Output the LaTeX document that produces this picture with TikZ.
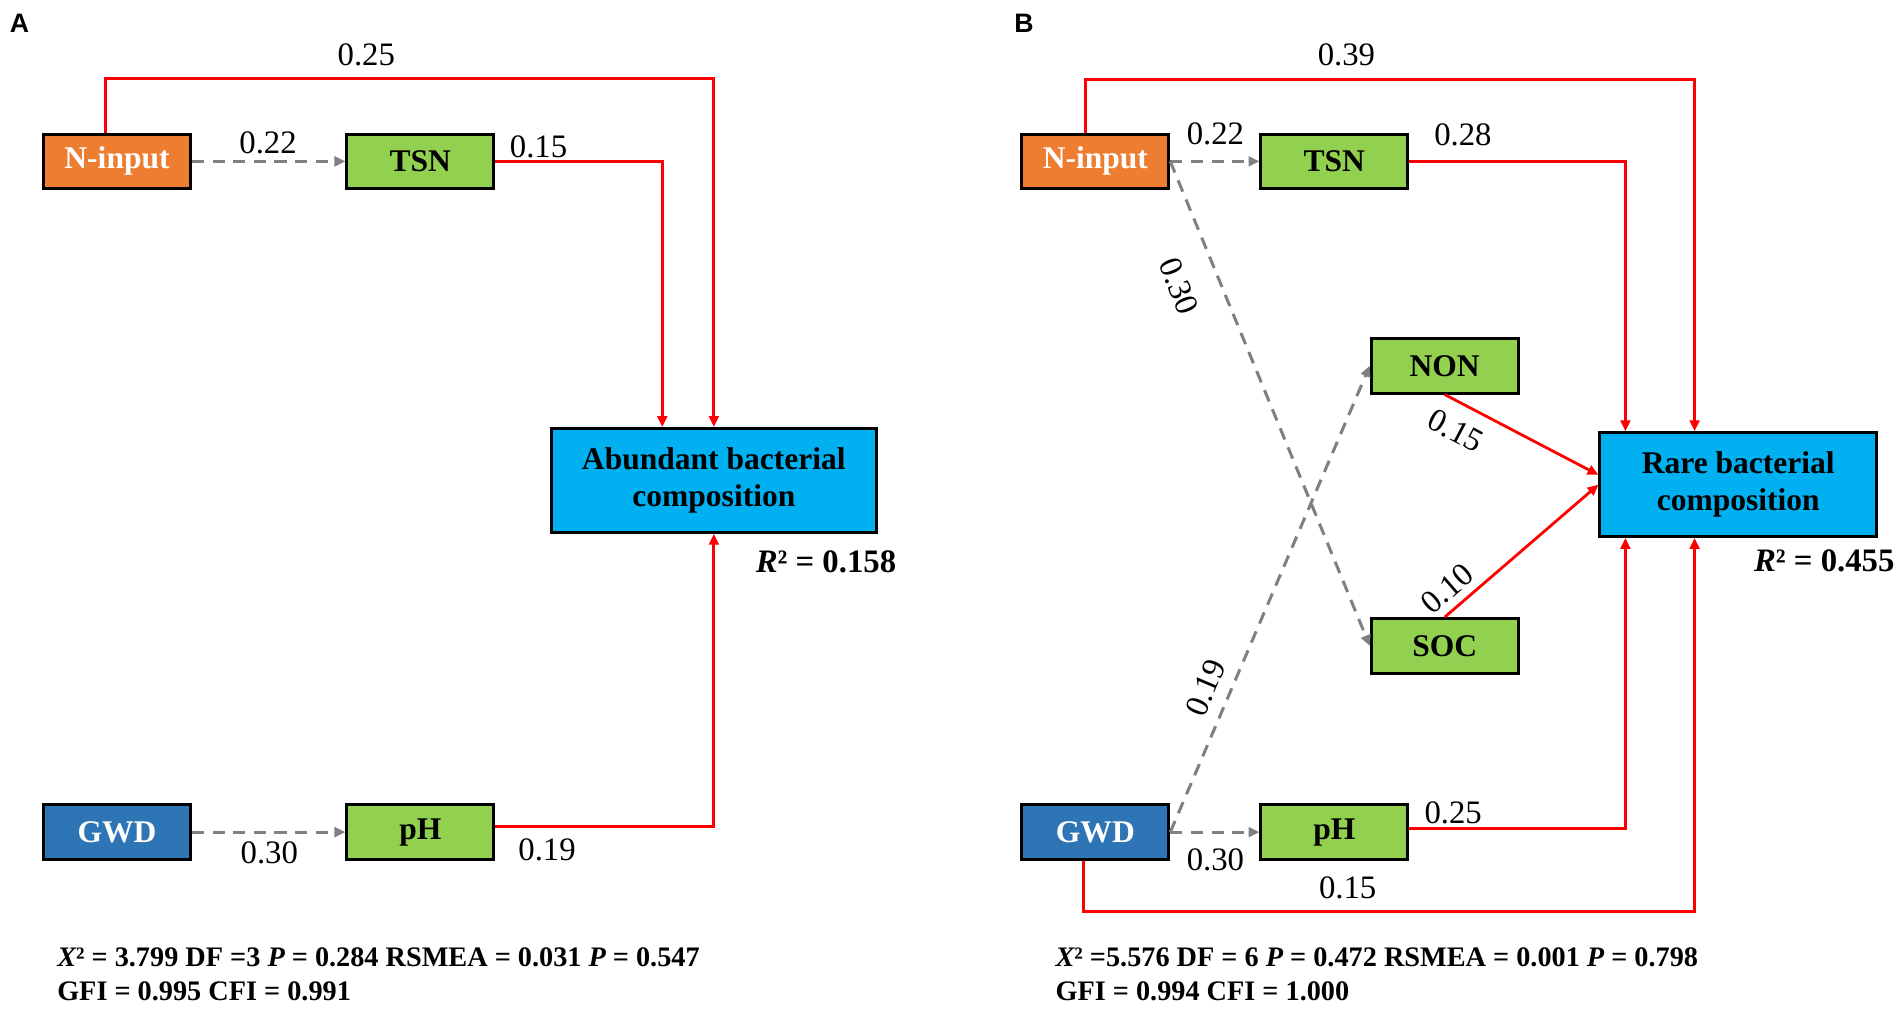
\documentclass[tikz,border=0pt]{standalone}
\usepackage{fontspec}
\setmainfont{Liberation Serif}
\newfontfamily\panelfont{Liberation Sans}
\usetikzlibrary{arrows.meta}
\definecolor{ninput}{HTML}{ED7D31}
\definecolor{gwd}{HTML}{2E75B6}
\definecolor{soil}{HTML}{92D050}
\definecolor{comp}{HTML}{00B0F0}
\definecolor{dash}{HTML}{808080}

\begin{document}
\begin{tikzpicture}[x=1pt,y=-1pt,
  box/.style={draw=black,line width=2.5pt,inner sep=0pt,minimum width=121pt,minimum height=45pt,font=\bfseries\fontsize{26}{30}\selectfont},
  big/.style={box,fill=comp,align=center,minimum height=85.5pt},
  coef/.style={inner sep=0pt,font=\fontsize{27}{30}\selectfont},
  rsq/.style={inner sep=0pt,anchor=base east,font=\bfseries\fontsize{27}{30}\selectfont},
  gof/.style={inner sep=0pt,anchor=base west,font=\bfseries\fontsize{23.3}{28}\selectfont},
  panel/.style={inner sep=0pt,anchor=base west,font=\panelfont\bfseries\fontsize{22}{26}\selectfont},
  redarr/.style={draw=red,line width=2.3pt,-{Triangle[length=9pt,width=8pt]}},
  greyarr/.style={draw=dash,line width=2.5pt,dash pattern=on 10pt off 7pt,-{Triangle[length=9pt,width=8pt]}}]
\useasboundingbox (0,0) rectangle (1568,831);

% Panel A
\node[panel] (labA) at (8,27) {A};
\node[box,fill=ninput,text=white] (nA) at (96.5,133) {N-input};
\node[box,fill=soil] (tA) at (346.5,133) {TSN};
\node[box,fill=gwd,text=white] (gA) at (96.5,686) {GWD};
\node[box,fill=soil] (pA) at (346.5,686) {pH};
\node[big,minimum width=268.5pt] (abA) at (588.5,396) {Abundant bacterial\\composition};
\draw[greyarr] (nA.east) -- (tA.west);
\draw[greyarr] (gA.east) -- (pA.west);
\draw[redarr] ([xshift=-9.5pt]nA.north) -- ++(0,-44.5) -| (abA.north);
\draw[redarr] (tA.east) -| ([xshift=-42.5pt]abA.north);
\draw[redarr] ([yshift=4.5pt]pA.east) -| (abA.south);
\node[coef] (cA1) at (302,45) {0.25};
\node[coef] (cA2) at (221,118) {0.22};
\node[coef] (cA3) at (444,121) {0.15};
\node[coef] (cA4) at (222,703) {0.30};
\node[coef] (cA5) at (451,701) {0.19};
\node[rsq] (rA) at (739,472) {{\itshape R}² = 0.158};
\node[gof] (fA1) at (47,797) {{\itshape X}² = 3.799 DF =3 {\itshape P} = 0.284 RSMEA = 0.031 {\itshape P} = 0.547};
\node[gof] (fA2) at (47,825) {GFI = 0.995 CFI = 0.991};

% Panel B
\node[panel] (labB) at (836,27) {B};
\node[box,fill=ninput,text=white] (nB) at (903,133) {N-input};
\node[box,fill=soil] (tB) at (1100,133) {TSN};
\node[box,fill=soil] (non) at (1191,301.5) {NON};
\node[box,fill=soil] (soc) at (1191,532.5) {SOC};
\node[box,fill=gwd,text=white] (gB) at (903,686) {GWD};
\node[box,fill=soil] (pB) at (1100,686) {pH};
\node[big,minimum width=228pt] (rare) at (1433,399.5) {Rare bacterial\\composition};
\draw[greyarr] (nB.east) -- (tB.west);
\draw[greyarr] (gB.east) -- (pB.west);
\draw[greyarr] (nB.east) -- (soc.west);
\draw[greyarr] (gB.east) -- (non.west);
\draw[redarr] ([xshift=-8pt]nB.north) -- ++(0,-43.5) -| ([xshift=-36pt]rare.north);
\draw[redarr] (tB.east) -| ([xshift=-93pt]rare.north);
\draw[redarr] (non.south) -- ([yshift=8pt]rare.west);
\draw[redarr] (soc.north) -- (rare.west);
\draw[redarr] ([yshift=3pt]pB.east) -| ([xshift=-93pt]rare.south);
\draw[redarr] ([xshift=-10pt]gB.south) -- ++(0,41.5) -| ([xshift=-36pt]rare.south);
\node[coef] (cB1) at (1110,45) {0.39};
\node[coef] (cB2) at (1002,110) {0.22};
\node[coef] (cB3) at (1206,111) {0.28};
\node[coef,rotate=-68] (cB4) at (972,236) {0.30};
\node[coef,rotate=67] (cB5) at (994,567) {0.19};
\node[coef,rotate=-28] (cB6) at (1200,355) {0.15};
\node[coef,rotate=41] (cB7) at (1193,485) {0.10};
\node[coef] (cB8) at (1002,709) {0.30};
\node[coef] (cB9) at (1198,670) {0.25};
\node[coef] (cB10) at (1111,732) {0.15};
\node[rsq] (rB) at (1562,471) {{\itshape R}² = 0.455};
\node[gof] (fB1) at (870,797) {{\itshape X}² =5.576 DF = 6 {\itshape P} = 0.472 RSMEA = 0.001 {\itshape P} = 0.798};
\node[gof] (fB2) at (870,825) {GFI = 0.994 CFI = 1.000};
\end{tikzpicture}
\end{document}
